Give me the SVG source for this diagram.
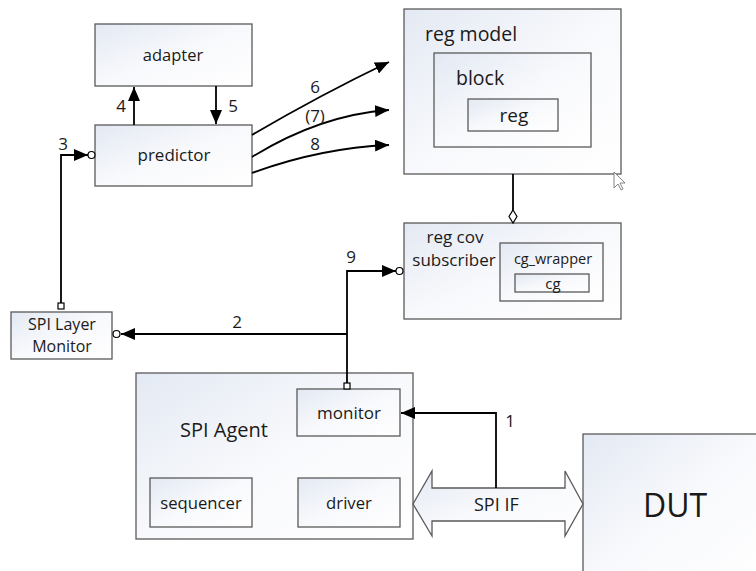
<svg xmlns="http://www.w3.org/2000/svg" width="756" height="571" viewBox="0 0 756 571">
<defs>
<linearGradient id="g" x1="0" y1="0" x2="1" y2="1">
<stop offset="0" stop-color="#e3e9f3"/>
<stop offset="0.5" stop-color="#f8f9fc"/>
<stop offset="1" stop-color="#ffffff"/>
</linearGradient>
<marker id="ahL" viewBox="0 0 14 12" refX="14" refY="6" markerWidth="14" markerHeight="12" markerUnits="userSpaceOnUse" orient="auto">
<path d="M0,0 L14,6 L0,12 Z" fill="#000"/>
</marker>
</defs>
<style>
.box{fill:url(#g);stroke:#5a5a5a;stroke-width:1.3}
.t{font-family:"Open Sans","Noto Sans",sans-serif;fill:#1a1a1a}
.c{text-anchor:middle}
.ln{fill:none;stroke:#000;stroke-width:1.8}
.port{fill:#fff;stroke:#000;stroke-width:1.2}
.lb{font-size:17px}
</style>
<rect width="756" height="571" fill="#fff"/>
<g id="adapter"><rect class="box" x="95" y="24" width="157" height="62"/><text class="t c" x="173" y="61" font-size="16.5">adapter</text></g>
<g id="predictor"><rect class="box" x="95" y="125" width="157" height="61"/><text class="t c" x="174" y="161" font-size="17">predictor</text></g>
<g id="reg-model"><rect class="box" x="404" y="9" width="217" height="165"/><text class="t" x="425" y="41" font-size="19.5">reg model</text>
<g id="block"><rect class="box" x="434" y="53" width="157" height="94"/><text class="t" x="456" y="85" font-size="19.5">block</text>
<g id="reg"><rect class="box" x="468" y="99" width="90" height="32"/><text class="t c" x="514" y="122" font-size="19">reg</text></g></g></g>
<g id="cursor"><path d="M614,172 L614,188 L618,184 L621,190 L623,189 L620,183 L625,183 Z" fill="#fff" stroke="#666" stroke-width="0.8"/></g>
<g id="reg-cov-subscriber"><rect class="box" x="404" y="223" width="217" height="96"/><text class="t c" x="455" y="243" font-size="17">reg cov</text><text class="t c" x="454" y="266" font-size="17">subscriber</text>
<g id="cg_wrapper"><rect class="box" x="500" y="243" width="103" height="58"/><text class="t c" x="553" y="264" font-size="14.5">cg_wrapper</text>
<g id="cg"><rect class="box" x="515" y="274" width="74" height="18"/><text class="t c" x="553" y="289" font-size="15">cg</text></g></g></g>
<g id="spi-layer-monitor"><rect class="box" x="11" y="312" width="101" height="47"/><text class="t c" x="62" y="330" font-size="16">SPI Layer</text><text class="t c" x="62" y="352" font-size="16">Monitor</text></g>
<g id="spi-agent"><rect class="box" x="136" y="373" width="277" height="166"/><text class="t" x="180" y="437" font-size="20">SPI Agent</text>
<g id="monitor"><rect class="box" x="297" y="389" width="103" height="47"/><text class="t c" x="349" y="419" font-size="17">monitor</text></g>
<g id="sequencer"><rect class="box" x="150" y="478" width="102" height="49"/><text class="t c" x="201" y="509" font-size="16.7">sequencer</text></g>
<g id="driver"><rect class="box" x="298" y="478" width="102" height="49"/><text class="t c" x="349" y="509" font-size="16.7">driver</text></g></g>
<g id="dut"><rect class="box" x="583" y="434" width="180" height="150"/><text class="t" x="643" y="517" font-size="32">DUT</text></g>
<g id="spi-if"><path class="box" d="M413,504 L432,471 L432,488 L565,488 L565,471 L583,504 L565,536 L565,521 L432,521 L432,536 Z"/><text class="t" x="474" y="511" font-size="18">SPI IF</text></g>
<g id="connectors">
<line class="ln" x1="134" y1="125" x2="134" y2="87" marker-end="url(#ahL)"/>
<line class="ln" x1="216" y1="86" x2="216" y2="124" marker-end="url(#ahL)"/>
<path class="ln" d="M252,135 Q320,95 389,62" marker-end="url(#ahL)"/>
<path class="ln" d="M252,157 Q320,115 389,110" marker-end="url(#ahL)"/>
<path class="ln" d="M252,173 Q320,148 389,145" marker-end="url(#ahL)"/>
<path class="ln" d="M61,307 L61,155 L88,155" marker-end="url(#ahL)"/>
<circle class="port" cx="91.5" cy="155" r="3.5"/>
<rect class="port" x="58" y="303" width="6" height="6"/>
<path class="ln" d="M347,386 L347,271 L396,271" marker-end="url(#ahL)"/>
<circle class="port" cx="399.5" cy="271" r="3.5"/>
<path class="ln" d="M347,334 L121,334" marker-end="url(#ahL)"/>
<circle class="port" cx="116.5" cy="334" r="3.5"/>
<rect class="port" x="344" y="383" width="6" height="6"/>
<path class="ln" d="M496,488 L496,413 L401,413" marker-end="url(#ahL)"/>
<line class="ln" x1="513" y1="174" x2="513" y2="210"/>
<path d="M513,210 L517,216.5 L513,223 L509,216.5 Z" fill="#fff" stroke="#000" stroke-width="1.2"/>
</g>
<g id="labels">
<text class="t c lb" x="121" y="112">4</text>
<text class="t c lb" x="233" y="112">5</text>
<text class="t c lb" x="63" y="150">3</text>
<text class="t c lb" x="315" y="93">6</text>
<text class="t c lb" x="315" y="122">(7)</text>
<text class="t c lb" x="315" y="150">8</text>
<text class="t c lb" x="351" y="263">9</text>
<text class="t c lb" x="237" y="328">2</text>
<text class="t c lb" x="510" y="427">1</text>
</g>
</svg>
